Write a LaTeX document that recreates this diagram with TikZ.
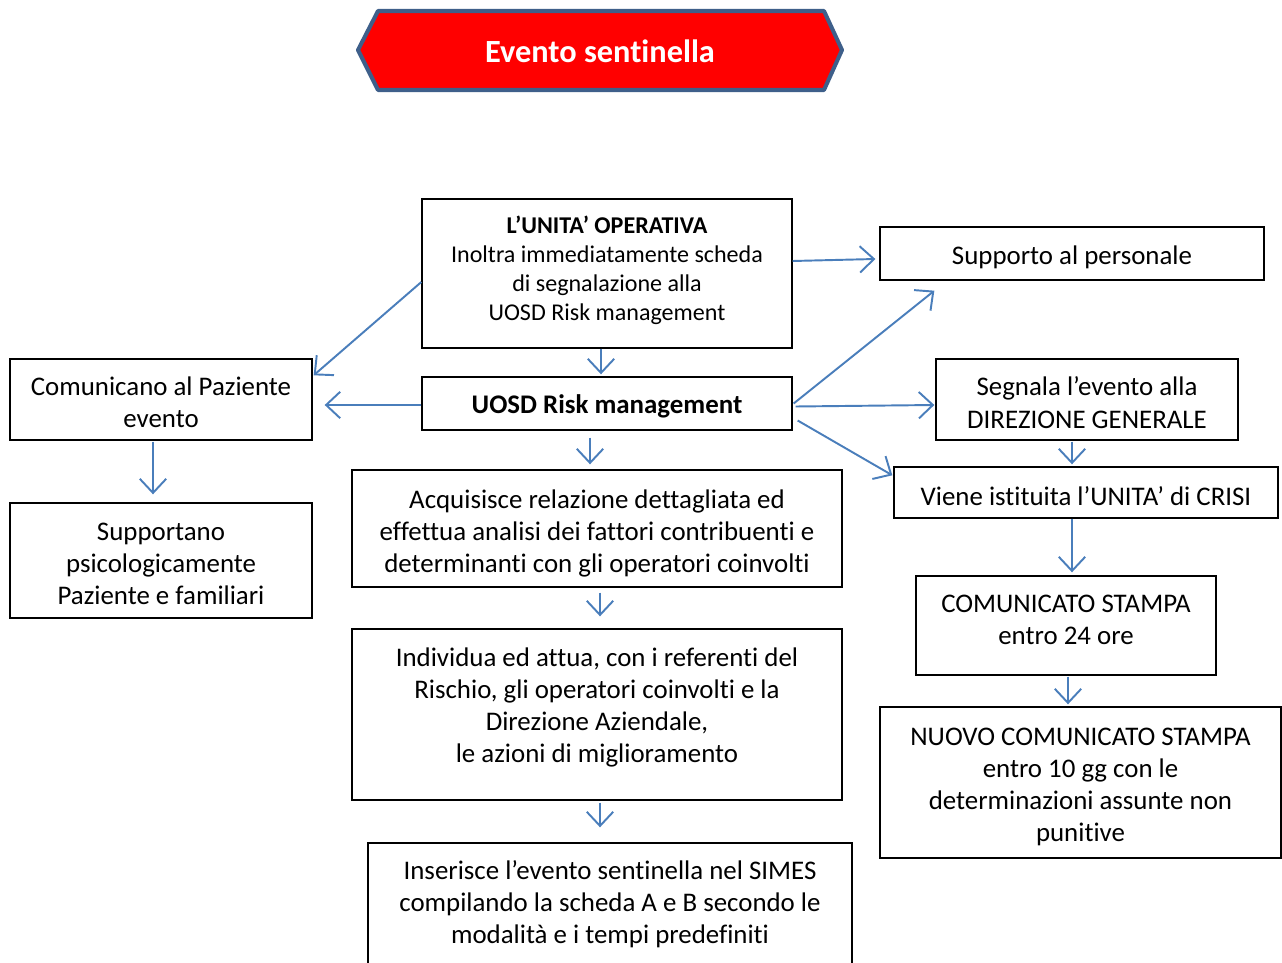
\documentclass[tikz,border=0pt]{standalone}
\usepackage{fontspec}
\setmainfont[Ligatures=NoCommon]{Carlito}
\usetikzlibrary{arrows.meta, calc, positioning}

\definecolor{flowblue}{RGB}{74,126,187}
\definecolor{bannerred}{RGB}{255,0,0}
\definecolor{bannerrim}{RGB}{62,95,138}

\begin{document}
\begin{tikzpicture}[x=0.02cm, y=-0.02cm,
		box/.style={draw, line width=0.8pt, align=center, inner sep=2pt, font=\fontsize{15.3}{18.3}\selectfont,
			execute at begin node={\rule{0pt}{14.5pt}}},
		flow/.style={flowblue, line width=1.1pt, -{Straight Barb[length=8pt, width=15pt]}}]
		
		\useasboundingbox (0,0) rectangle (1282,963);
		
		% --- 1. THE TITLE BANNER ---
		\filldraw[fill=bannerred, draw=bannerrim, line width=2.3pt, line join=round]
		(358,50) -- (378,11) -- (824,11) -- (842,50) -- (824,90) -- (378,90) -- cycle;
		\node[text=white, font=\fontsize{18.4}{21}\selectfont\bfseries] (title) at (600,51) {Evento sentinella};
		
		% --- 2. CENTRAL COLUMN ---
		\node[box, minimum width=7.4cm, minimum height=2.98cm, font=\fontsize{13.7}{16.6}\selectfont] (uo) at (607,273.5)
		{\textbf{L’UNITA’ OPERATIVA}\\Inoltra immediatamente scheda\\di segnalazione alla\\UOSD Risk management\\[-10.8pt]};
		\node[box, minimum width=7.4cm, minimum height=1.06cm] (uosd) at (607,403.5) {\textbf{UOSD Risk management}};
		\node[box, minimum width=9.8cm, minimum height=2.34cm] (acq) at (597,528.5)
		{Acquisisce relazione dettagliata ed\\effettua analisi dei fattori contribuenti e\\determinanti con gli operatori coinvolti\\[-21.4pt]};
		\node[box, minimum width=9.8cm, minimum height=3.42cm] (indiv) at (597,714.5)
		{Individua ed attua, con i referenti del\\Rischio,  gli operatori coinvolti e la\\Direzione Aziendale,\\le azioni di miglioramento\\[-7.8pt]};
		\node[box, minimum width=9.68cm, minimum height=2.44cm] (ins) at (610,904)
		{Inserisce l’evento sentinella nel SIMES\\compilando la scheda A e B secondo le\\modalità e i tempi predefiniti};
		
		% --- 3. LEFT COLUMN (patient) ---
		\node[box, minimum width=6.04cm, minimum height=1.62cm] (com) at (161,399.5) {Comunicano al Paziente\\evento\\[-21.7pt]};
		\node[box, minimum width=6.04cm, minimum height=2.3cm] (psy) at (161,560.5)
		{Supportano\\psicologicamente\\Paziente e familiari\\[-21.7pt]};
		
		% --- 4. RIGHT COLUMN (direction, crisis, press) ---
		\node[box, minimum width=7.68cm, minimum height=1.06cm] (staff) at (1072,253.5) {Supporto al personale};
		\node[box, minimum width=6.04cm, minimum height=1.62cm] (seg) at (1087,399.5) {Segnala l’evento alla\\DIREZIONE GENERALE\\[-21.7pt]};
		\node[box, minimum width=7.68cm, minimum height=1.02cm] (crisi) at (1086,492.5) {Viene istituita l’UNITA’ di CRISI};
		\node[box, minimum width=6.0cm, minimum height=1.98cm] (press) at (1066,625.5) {COMUNICATO STAMPA\\entro 24 ore\\[-11.5pt]};
		\node[box, minimum width=8.02cm, minimum height=3.02cm] (press2) at (1080.5,782.5)
		{NUOVO COMUNICATO STAMPA\\entro 10 gg con le\\determinazioni assunte non\\punitive\\[-20.6pt]};
		
		% --- 5. THE ARROWS ---
		\draw[flow] ($(uo.south)+(-6,0)$) -- ($(uosd.north)+(-6,-2)$);
		\draw[flow] ($(uo.west)+(0,8.5)$) -- ($(com.north east)+(1,17)$);
		\draw[flow, shorten >=0.24cm] ($(uosd.west)+(0,1.5)$) -- ($(com.east)+(0,5.5)$);
		\draw[flow] ($(uo.east)+(0,-12.5)$) -- ($(staff.west)+(-4,5.5)$);
		\draw[flow] ($(uosd.east)+(1,0)$) -- ($(staff.south west)+(55,10)$);
		\draw[flow] ($(uosd.east)+(3,3)$) -- ($(seg.west)+(-1,5.5)$);
		\draw[flow] ($(uosd.east)+(5,17)$) -- ($(crisi.north west)+(-1,9)$);
		\draw[flow] ($(uosd.south)+(-17,7)$) -- ($(acq.north)+(-7,-5)$);
		\draw[flow] ($(acq.south)+(3,5)$) -- ($(indiv.north)+(3,-12)$);
		\draw[flow] ($(indiv.south)+(3,2)$) -- ($(ins.north)+(-10,-15)$);
		\draw[flow] ($(com.south)+(-8,1)$) -- ($(psy.north)+(-8,-8)$);
		\draw[flow] ($(seg.south)+(-15,1)$) -- ($(crisi.north)+(-14,-2)$);
		\draw[flow] ($(crisi.south)+(-14,0)$) -- ($(press.north)+(6,-3)$);
		\draw[flow] ($(press.south)+(2,1)$) -- ($(press2.north)+(-12.5,-2)$);
		
\end{tikzpicture}
\end{document}
